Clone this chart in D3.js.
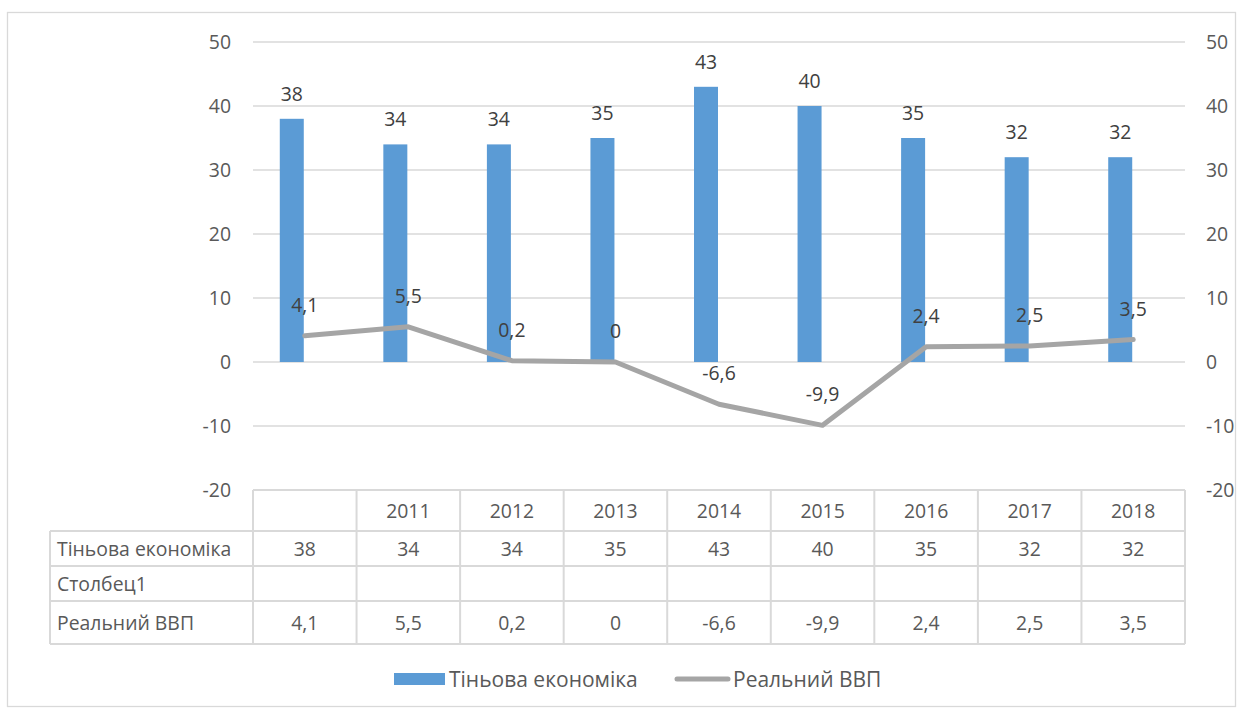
<!DOCTYPE html>
<html><head><meta charset="utf-8">
<script src="https://cdn.jsdelivr.net/npm/d3@7"></script>
<style>body{margin:0;background:#fff;}svg{display:block;}text{font-family:"Open Sans",sans-serif;}</style>
</head><body>
<svg id="c" width="1244" height="713"></svg>
<script>
const categories = ["", "2011", "2012", "2013", "2014", "2015", "2016", "2017", "2018"];
const shadow = [38, 34, 34, 35, 43, 40, 35, 32, 32];
const gdp = [4.1, 5.5, 0.2, 0, -6.6, -9.9, 2.4, 2.5, 3.5];
const leftTicks = [50, 40, 30, 20, 10, 0, -10, -20];
const rightTicks = [50, 40, 30, 20, 10, 0, -10, -20];
const seriesNames = ["Тіньова економіка", "Столбец1", "Реальний ВВП"];

const svg = d3.select("#c");
const fmt = v => String(v).replace(".", ",");
const BLUE = "#5B9BD5", GREY = "#A5A5A5", TXT = "#595959", LBL = "#404040", GRID = "#D9D9D9";
const FS = 19.4;

svg.append("rect").attr("x", 7.5).attr("y", 12.5).attr("width", 1228).attr("height", 694)
  .attr("fill", "#fff").attr("stroke", GRID).attr("stroke-width", 1.3);

const x = d3.scaleBand().domain(categories).range([253, 1185]).padding(0);
const y = d3.scaleLinear().domain([-20, 50]).range([490, 42]);
const y2 = d3.scaleLinear().domain([-20, 50]).range([490, 42]);
const cx = c => x(c) + x.bandwidth() / 2;

// gridlines
svg.append("g").selectAll("line").data(leftTicks.filter(t => t > -20)).join("line")
  .attr("x1", 253).attr("x2", 1185).attr("y1", d => y(d)).attr("y2", d => y(d))
  .attr("stroke", GRID).attr("stroke-width", 1.5);

// left axis
const la = svg.append("g").attr("transform", "translate(231,0)")
  .call(d3.axisLeft(y).tickValues(leftTicks).tickSize(0).tickPadding(0).tickFormat(d => String(d)));
la.select(".domain").remove();
la.selectAll("text").attr("font-size", FS).attr("fill", TXT).attr("font-family", "Open Sans");
// right axis
const ra = svg.append("g").attr("transform", "translate(1206,0)")
  .call(d3.axisRight(y2).tickValues(rightTicks).tickSize(0).tickPadding(0).tickFormat(d => String(d)));
ra.select(".domain").remove();
ra.selectAll("text").attr("font-size", FS).attr("fill", TXT).attr("font-family", "Open Sans");

// bars (first series of a two-series cluster, offset left)
const bw = 24;
svg.append("g").selectAll("rect").data(categories).join("rect")
  .attr("x", (c) => cx(c) - bw - 1).attr("width", bw)
  .attr("y", (c, i) => y(shadow[i])).attr("height", (c, i) => y(0) - y(shadow[i]))
  .attr("fill", BLUE);
svg.append("g").selectAll("text").data(categories).join("text")
  .attr("x", c => cx(c) - bw / 2 - 1).attr("y", (c, i) => y(shadow[i]) - 18)
  .attr("text-anchor", "middle").attr("font-size", FS).attr("fill", LBL)
  .text((c, i) => fmt(shadow[i]));

// line on secondary axis
const line = d3.line().x((d, i) => cx(categories[i])).y(d => y2(d));
svg.append("path").datum(gdp).attr("d", line).attr("fill", "none")
  .attr("stroke", GREY).attr("stroke-width", 5).attr("stroke-linejoin", "round").attr("stroke-linecap", "round");
svg.append("g").selectAll("text").data(gdp).join("text")
  .attr("x", (d, i) => cx(categories[i])).attr("y", d => y2(d) - 24)
  .attr("text-anchor", "middle").attr("font-size", FS).attr("fill", LBL)
  .text(d => fmt(d));

// data table
const tbl = svg.append("g");
const rowsY = [490, 531, 566, 601, 644];
const tLeft = 50;
tbl.append("line").attr("x1", 253).attr("x2", 1185).attr("y1", rowsY[0]).attr("y2", rowsY[0]).attr("stroke", GRID).attr("stroke-width", 2);
rowsY.slice(1).forEach(yy => tbl.append("line").attr("x1", tLeft).attr("x2", 1185).attr("y1", yy).attr("y2", yy).attr("stroke", GRID).attr("stroke-width", 2));
categories.forEach(c => tbl.append("line").attr("x1", x(c)).attr("x2", x(c)).attr("y1", rowsY[0]).attr("y2", rowsY[4]).attr("stroke", GRID).attr("stroke-width", 2));
tbl.append("line").attr("x1", 1185).attr("x2", 1185).attr("y1", rowsY[0]).attr("y2", rowsY[4]).attr("stroke", GRID).attr("stroke-width", 2);
tbl.append("line").attr("x1", tLeft).attr("x2", tLeft).attr("y1", rowsY[1]).attr("y2", rowsY[4]).attr("stroke", GRID).attr("stroke-width", 2);
const mid = i => (rowsY[i] + rowsY[i + 1]) / 2 + 7;
categories.forEach((c, i) => {
  tbl.append("text").attr("x", cx(c)).attr("y", mid(0)).attr("text-anchor", "middle").attr("font-size", FS).attr("fill", TXT).text(c);
  tbl.append("text").attr("x", cx(c)).attr("y", mid(1)).attr("text-anchor", "middle").attr("font-size", FS).attr("fill", TXT).text(fmt(shadow[i]));
  tbl.append("text").attr("x", cx(c)).attr("y", mid(3)).attr("text-anchor", "middle").attr("font-size", FS).attr("fill", TXT).text(fmt(gdp[i]));
});
seriesNames.forEach((n, i) => tbl.append("text").attr("x", tLeft + 7).attr("y", mid(i + 1)).attr("font-size", FS).attr("fill", TXT).text(n));

// legend
const lg = svg.append("g");
lg.append("rect").attr("x", 394).attr("y", 673).attr("width", 51).attr("height", 12).attr("fill", BLUE);
lg.append("text").attr("x", 449).attr("y", 687).attr("font-size", 21).attr("fill", TXT).text(seriesNames[0]);
lg.append("line").attr("x1", 677).attr("x2", 728).attr("y1", 679).attr("y2", 679).attr("stroke", GREY).attr("stroke-width", 5).attr("stroke-linecap", "round");
lg.append("text").attr("x", 733).attr("y", 687).attr("font-size", 21).attr("fill", TXT).text(seriesNames[2]);
</script>
</body></html>
